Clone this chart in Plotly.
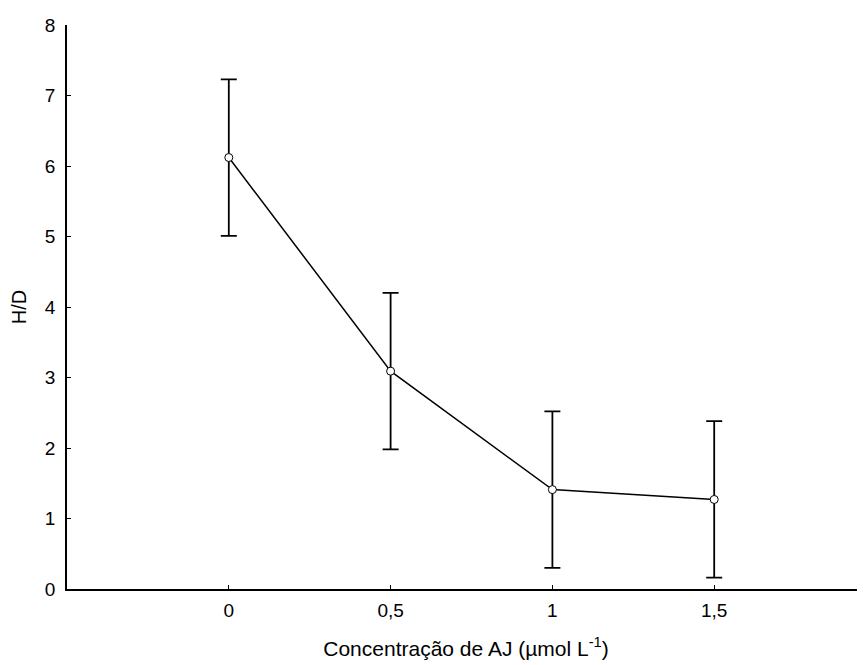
import plotly.graph_objects as go

conc = [0, 0.5, 1, 1.5]
hd_mean = [6.12, 3.09, 1.41, 1.27]
hd_err = [1.11, 1.11, 1.11, 1.11]
x_ticks = [0, 0.5, 1, 1.5]
x_tick_labels = ["0", "0,5", "1", "1,5"]
y_ticks = [0, 1, 2, 3, 4, 5, 6, 7, 8]

fig = go.Figure()
fig.add_trace(go.Scatter(
    x=conc, y=hd_mean, mode="lines+markers",
    line=dict(color="black", width=1.5),
    marker=dict(symbol="circle", size=8, color="white", line=dict(color="black", width=1)),
    error_y=dict(type="data", array=hd_err, visible=True, color="black", thickness=1.8, width=8),
    showlegend=False,
))

font = dict(family="Liberation Sans, Arial, sans-serif", size=19, color="black")
fig.update_layout(
    width=857, height=657,
    margin=dict(l=59, r=0, t=17, b=76),
    paper_bgcolor="white", plot_bgcolor="white",
    font=font,
    xaxis=dict(range=[-0.5, 1.966], tickvals=x_ticks, ticktext=x_tick_labels,
               ticks="inside", ticklen=4, tickcolor="black", tickwidth=1,
               tickfont=dict(size=19), ticklabelstandoff=3,
               showline=True, linecolor="black", linewidth=1.5, showgrid=False, zeroline=False,
               title=dict(text="Concentração de AJ (µmol L<sup>-1</sup>)", font=dict(size=21), standoff=22)),
    yaxis=dict(range=[0, 8], tickvals=y_ticks, ticks="inside", ticklen=4, tickcolor="black",
               tickwidth=1, tickfont=dict(size=19), ticklabelstandoff=6,
               showline=True, linecolor="black", linewidth=1.5, showgrid=False,
               zeroline=False,
               title=dict(text="H/D", font=dict(size=20), standoff=14)),
)
fig.write_html("out.html")
